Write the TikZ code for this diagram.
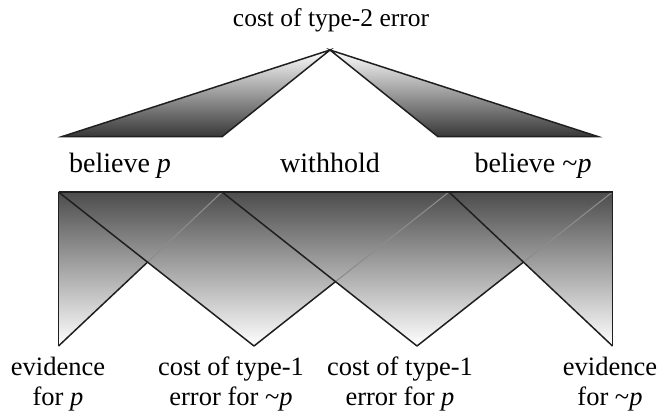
\documentclass[tikz,border=0pt]{standalone}
\usepackage{fontspec}
\setmainfont{Liberation Serif}
\begin{document}
\begin{tikzpicture}[x=1pt,y=-1pt,
  edge/.style={draw=black!88,line width=1.5pt,line join=miter},
  faint/.style={draw=black!45,line width=1.1pt},
  uptri/.style={top color=white,middle color=black!30,bottom color=black!78,edge},
  title/.style={font=\fontsize{25.5}{28}\selectfont,anchor=base,inner sep=0pt},
  optlabel/.style={font=\fontsize{28}{30}\selectfont,anchor=base,inner sep=0pt},
  foot/.style={font=\fontsize{26.5}{30}\selectfont,align=center,anchor=base,inner sep=0pt}]
\useasboundingbox (0,0) rectangle (660,417);
% ---- top: cost of type-2 error
\coordinate (apex) at (330,50);
\coordinate (l1) at (62.3,136.5);
\coordinate (l2) at (222.3,136.5);
\coordinate (r1) at (437.7,136.5);
\coordinate (r2) at (597.7,136.5);
\node[title] (t2) at (331,27) {cost of type-2 error};
\path[uptri] (apex) -- (l1) -- (l2) -- cycle;
\path[uptri] (apex) -- (r2) -- (r1) -- cycle;
\node[optlabel] (bp) at (120,172) {believe \textit{p}};
\node[optlabel] (wh) at (330,172) {withhold};
\node[optlabel] (bnp) at (533,172) {believe \textasciitilde\textit{p}};
% ---- bottom panel
\coordinate (LT) at (58.5,192);
\coordinate (RT) at (612.5,192);
\coordinate (LB) at (58.5,346);
\coordinate (RB) at (612.5,346);
\coordinate (V1) at (254,346);
\coordinate (V2) at (417,346);
\coordinate (A) at (222,192);
\coordinate (Bt) at (449,192);
\coordinate (X1) at (intersection of LT--V1 and LB--A);
\coordinate (X2) at (intersection of A--V2 and V1--Bt);
\coordinate (X3) at (intersection of Bt--RB and V2--RT);
\shade[top color=black!70,middle color=black!22,bottom color=white]
  (LT) -- (RT) -- (RB) -- (X3) -- (V2) -- (X2) -- (V1) -- (X1) -- (LB) -- cycle;
\draw[faint] (X1) -- (A);
\draw[faint] (X2) -- (Bt);
\draw[faint] (X3) -- (RT);
\draw[edge,line width=1.2pt] (LT) -- (RT);
\draw[edge] (LT) -- (LB);
\draw[edge] (RT) -- (RB);
\draw[edge] (LT) -- (V1);
\draw[edge] (A) -- (V2);
\draw[edge] (Bt) -- (RB);
\draw[edge] (LB) -- (X1);
\draw[edge] (V1) -- (X2);
\draw[edge] (V2) -- (X3);
% ---- bottom labels
\node[foot] (e1) at (58,405) {evidence\\for \textit{p}};
\node[foot] (c1) at (231,405) {cost of type-1\\error for \textasciitilde\textit{p}};
\node[foot] (c2) at (400,405) {cost of type-1\\error for \textit{p}};
\node[foot] (e2) at (610,405) {evidence\\for \textasciitilde\textit{p}};
\end{tikzpicture}
\end{document}
